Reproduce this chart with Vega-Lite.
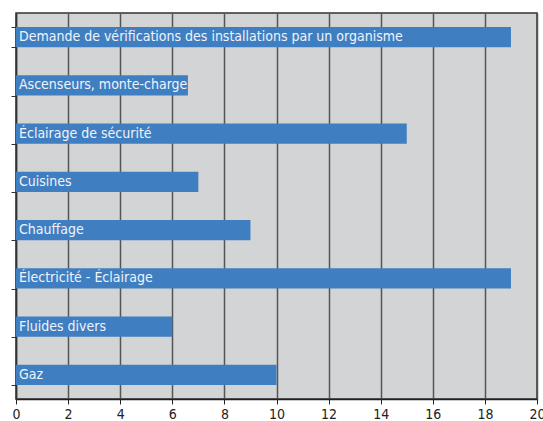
{
  "$schema": "https://vega.github.io/schema/vega-lite/v6.json",
  "width": 521,
  "height": 386,
  "autosize": {"type": "none"},
  "padding": {"left": 16, "top": 13, "right": 6, "bottom": 22},
  "background": "white",
  "config": {
    "view": {"fill": "#d3d4d6", "stroke": "#333", "strokeWidth": 1.5},
    "font": "DejaVu Sans Condensed"
  },
  "data": {
    "values": [
      {"cat": "Demande de vérifications des installations par un organisme", "v": 19},
      {"cat": "Ascenseurs, monte-charge", "v": 6.6},
      {"cat": "Éclairage de sécurité", "v": 15},
      {"cat": "Cuisines", "v": 7},
      {"cat": "Chauffage", "v": 9},
      {"cat": "Électricité - Éclairage", "v": 19},
      {"cat": "Fluides divers", "v": 6},
      {"cat": "Gaz", "v": 10}
    ]
  },
  "encoding": {
    "y": {
      "field": "cat", "type": "nominal", "sort": null,
      "scale": {"paddingInner": 0.58, "paddingOuter": 0.29},
      "axis": {"title": null, "labels": false, "tickBand": "extent", "tickSize": 5, "tickColor": "#333", "domainColor": "#333", "domainWidth": 1.5, "grid": false}
    }
  },
  "layer": [
    {
      "mark": {"type": "bar", "color": "#3f7fc1"},
      "encoding": {
        "x": {
          "field": "v", "type": "quantitative",
          "scale": {"domain": [0, 20], "nice": false},
          "axis": {"title": null, "values": [0,2,4,6,8,10,12,14,16,18,20], "tickSize": 5, "tickColor": "#222", "domainColor": "#222", "domainWidth": 1.5, "gridColor": "#555", "gridWidth": 1.5, "gridOpacity": 1, "labelFontSize": 14, "labelColor": "#222", "labelPadding": 3, "labelFlush": false}
        }
      }
    },
    {
      "mark": {"type": "text", "align": "left", "baseline": "middle", "dx": 3, "color": "#f0f3fa", "fontSize": 14},
      "encoding": {
        "x": {"datum": 0, "type": "quantitative"},
        "text": {"field": "cat"}
      }
    }
  ]
}
